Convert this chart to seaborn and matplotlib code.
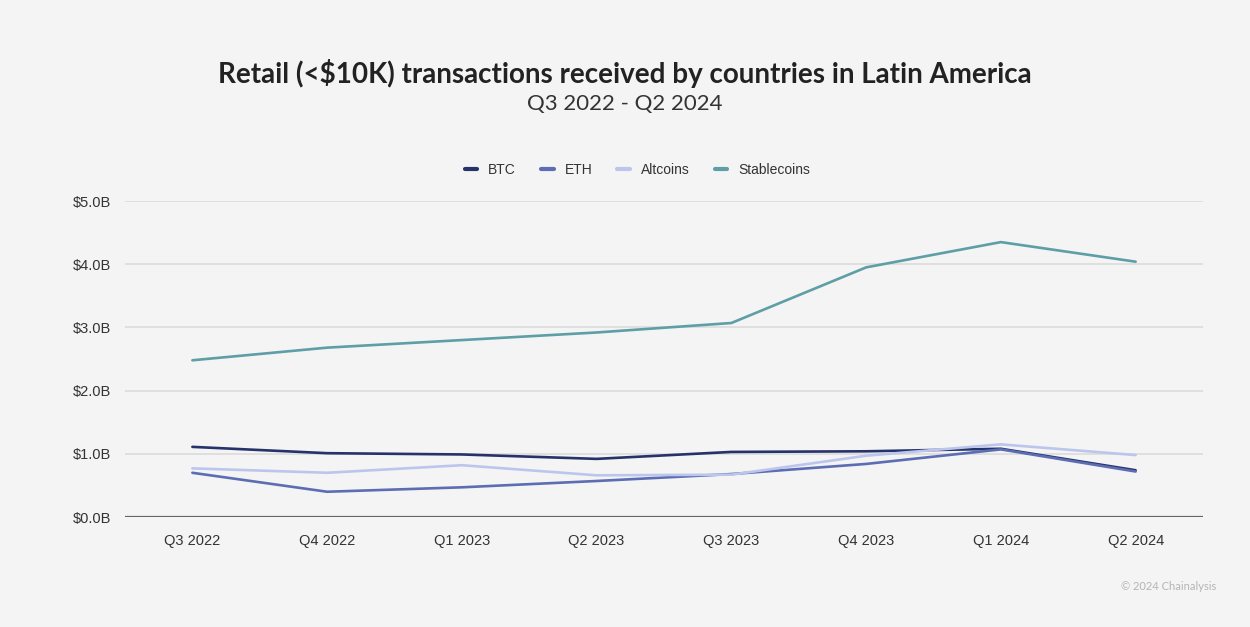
import numpy as np
import pandas as pd
import matplotlib
matplotlib.use("Agg")
import matplotlib.pyplot as plt
import seaborn as sns

quarters = ["Q3 2022", "Q4 2022", "Q1 2023", "Q2 2023", "Q3 2023", "Q4 2023", "Q1 2024", "Q2 2024"]
btc = [1.11, 1.01, 0.99, 0.92, 1.03, 1.04, 1.08, 0.74]
eth = [0.70, 0.40, 0.47, 0.57, 0.68, 0.84, 1.07, 0.72]
altcoins = [0.77, 0.70, 0.82, 0.66, 0.67, 0.97, 1.15, 0.98]
stablecoins = [2.48, 2.68, 2.80, 2.92, 3.07, 3.95, 4.35, 4.04]
series_names = ["BTC", "ETH", "Altcoins", "Stablecoins"]
y_ticks = [0, 1, 2, 3, 4, 5]

colors = {"BTC": "#26336b", "ETH": "#5c6db3", "Altcoins": "#bcc6ec", "Stablecoins": "#5e9ea6"}

df = pd.DataFrame({
    "quarter": quarters * 4,
    "pos": list(range(len(quarters))) * 4,
    "value": btc + eth + altcoins + stablecoins,
    "series": sum([[s] * len(quarters) for s in series_names], []),
})

sns.set_theme(style="white")
plt.rcParams["font.family"] = ["Liberation Sans", "DejaVu Sans"]

bg = "#f4f4f4"
fig = plt.figure(figsize=(12.5, 6.27), dpi=100)
fig.patch.set_facecolor(bg)
ax = fig.add_axes([0.1, 0.1754, 0.8624, 0.504])
ax.set_facecolor(bg)

sns.lineplot(data=df, x="pos", y="value", hue="series", hue_order=series_names,
             palette=colors, linewidth=1.9, ax=ax, legend=False, sort=False)

ax.set_xlim(-0.5, len(quarters) - 0.5)
ax.set_ylim(0, 5)
ax.set_xticks(range(len(quarters)))
ax.set_xticklabels(quarters, fontsize=10.5, color="#333333")
ax.set_yticks(y_ticks)
ax.set_yticklabels([f"${v:.1f}B" for v in y_ticks], fontsize=10.5, color="#333333")
ax.tick_params(axis="both", length=0, pad=10)
ax.tick_params(axis="x", pad=12)
for y in y_ticks[1:]:
    ax.axhline(y, color="#d9d9d9", linewidth=1.1, zorder=0)
ax.axhline(0, color="#666666", linewidth=1.6, zorder=3)
ax.set_xlabel("")
ax.set_ylabel("")
for s in ax.spines.values():
    s.set_visible(False)

# legend
from matplotlib.lines import Line2D
handles = [Line2D([0], [0], color=colors[s], linewidth=3.0) for s in series_names]
fig.legend(handles, series_names, loc="center", bbox_to_anchor=(0.51, 0.729), ncol=4,
           frameon=False, fontsize=10, handlelength=0.9, handletextpad=0.8, columnspacing=1.8,
           labelcolor="#333333")

fig.text(0.5, 0.883, "Retail (<$10K) transactions received by countries in Latin America",
         ha="center", va="center", fontsize=20, fontweight="bold", color="#222222", family=["Lato", "DejaVu Sans"])
fig.text(0.5, 0.834, "Q3 2022 - Q2 2024", ha="center", va="center", fontsize=16,
         color="#333333", family=["Lato", "DejaVu Sans"])
fig.text(0.973, 0.064, "© 2024 Chainalysis", ha="right", va="center", fontsize=8,
         color="#b5b5b5", family=["Lato", "DejaVu Sans"])

fig.savefig("out.png", dpi=100, facecolor=bg)
